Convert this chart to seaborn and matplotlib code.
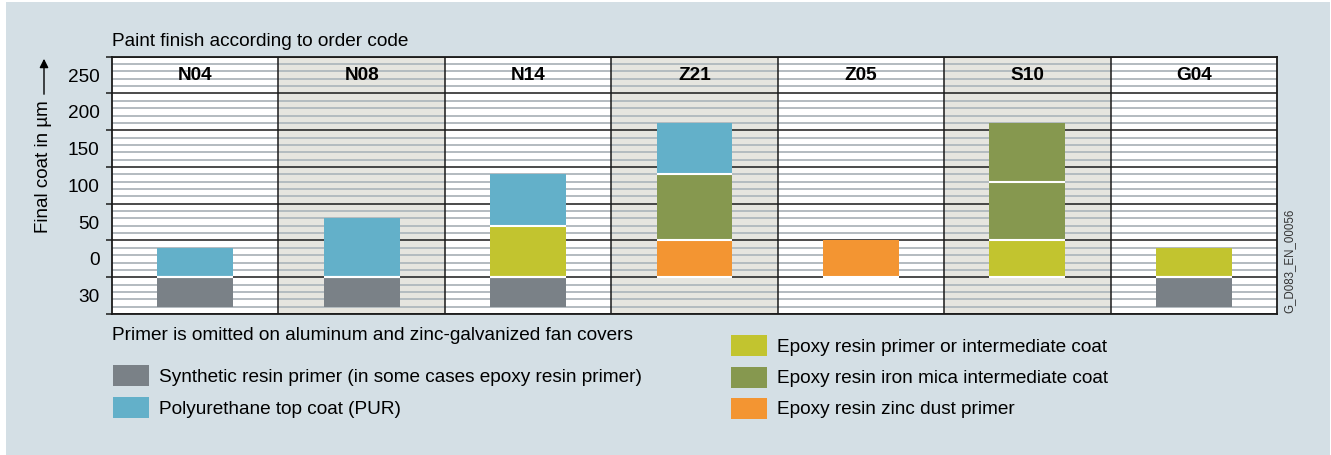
import pandas as pd
import matplotlib.pyplot as plt
import seaborn as sns
from matplotlib.patches import Rectangle

# Veriler
codes = ["N04", "N08", "N14", "Z21", "Z05", "S10", "G04"]
primer_gray = [40, 40, 40, 0, 0, 0, 40]  # sıfırın altında
zinc_orange = [0, 0, 0, 50, 50, 0, 0]
epoxy_yellow = [0, 0, 70, 0, 0, 50, 40]
mica_green = [0, 0, 0, 90, 0, 80, 0]
mica_green_2 = [0, 0, 0, 0, 0, 80, 0]
pur_blue = [40, 80, 70, 70, 0, 0, 0]

ytick_pos = [-25, 25, 75, 125, 175, 225, 275]
ytick_labels = ["30", "0", "50", "100", "150", "200", "250"]

legend_left = ["Synthetic resin primer (in some cases epoxy resin primer)",
               "Polyurethane top coat (PUR)"]
legend_right = ["Epoxy resin primer or intermediate coat",
                "Epoxy resin iron mica intermediate coat",
                "Epoxy resin zinc dust primer"]

colors = {"gray": "#7a8187", "orange": "#f39532", "yellow": "#c2c42f",
          "green": "#86984f", "blue": "#63b0c9"}

plt.rcParams['font.family'] = ['Liberation Sans', 'DejaVu Sans']
FS = 13.7

# Katmanları uzun tabloya çevir
layers = [("orange", zinc_orange), ("yellow", epoxy_yellow), ("green", mica_green),
          ("green", mica_green_2), ("blue", pur_blue)]
rows = []
for i, c in enumerate(codes):
    rows.append(dict(code=c, pos=i, color="gray", bottom=0, height=-primer_gray[i]))
    b = 0
    for name, vals in layers:
        rows.append(dict(code=c, pos=i, color=name, bottom=b, height=vals[i]))
        b += vals[i]
df = pd.DataFrame(rows)
df = df[df.height != 0]

W, H = 1331, 455
fig = plt.figure(figsize=(W / 100, H / 100), dpi=100, facecolor="white")
fig.add_artist(Rectangle((6 / W, 0), 1 - 7 / W, 1 - 2 / H, transform=fig.transFigure,
                         facecolor="#d4dfe5", edgecolor="none", zorder=0))

ax = fig.add_axes([112 / W, 1 - 314 / H, 1165 / W, 257.3 / H])
ax.set_facecolor("white")

bar_w = 0.455
for r in df.itertuples():
    sns.barplot(x=[r.code], y=[r.height], order=codes, color=colors[r.color],
                bottom=r.bottom, width=bar_w, linewidth=0, errorbar=None,
                saturation=1, ax=ax, zorder=3)
    ax.hlines(r.bottom, r.pos - bar_w / 2, r.pos + bar_w / 2, color="white", lw=1.5, zorder=4)

# Sütun arka planları ve çizgiler
for i in [1, 3, 5]:
    ax.axvspan(i - 0.5, i + 0.5, color="#e6e5df", zorder=0, lw=0)
for v in range(-50, 301, 10):
    if v % 50:
        ax.axhline(v, color="#b3bbc0", lw=1.4, zorder=1)
for v in range(-50, 301, 50):
    ax.axhline(v, color="#1a1a1a", lw=1.1, zorder=2)
for i in range(len(codes) - 1):
    ax.axvline(i + 0.5, color="#1a1a1a", lw=1.1, zorder=2)

for i, c in enumerate(codes):
    ax.text(i, 275, c, ha="center", va="center", fontsize=FS, fontweight="bold", zorder=5)

ax.set_xlim(-0.5, len(codes) - 0.5)
ax.set_ylim(-50, 300)
ax.set_xticks([])
ax.set_xlabel("")
ax.set_ylabel("")
ax.set_yticks(ytick_pos, ytick_labels)
ax.set_yticks(range(-50, 301, 50), minor=True)
ax.tick_params(axis="y", which="major", length=0, pad=9, labelsize=FS)
ax.tick_params(axis="y", which="minor", length=4, width=1.1, color="#1a1a1a")
for s in ax.spines.values():
    s.set_color("#1a1a1a")
    s.set_linewidth(1.3)
    s.set_zorder(6)

# Başlık ve eksen yazısı
fig.text(112 / W, 1 - 42 / H, "Paint finish according to order code", fontsize=FS, va="center")
fig.text(44 / W, 1 - 167 / H, "Final coat in µm", rotation=90, fontsize=13.5,
         ha="center", va="center")
ax.annotate("", xy=(44 / W, 1 - 56 / H), xytext=(44 / W, 1 - 97 / H),
            xycoords="figure fraction", textcoords="figure fraction",
            arrowprops=dict(arrowstyle="-|>", color="black", lw=1, mutation_scale=13))
fig.text(1289 / W, 1 - 313 / H, "G_D083_EN_00056", rotation=90, fontsize=8.3,
         color="#333333", ha="center", va="bottom")

# Lejant
fig.text(112 / W, 1 - 335 / H, "Primer is omitted on aluminum and zinc-galvanized fan covers",
         fontsize=FS, va="center")
left_cols = ["gray", "blue"]
for k, (lab, cname) in enumerate(zip(legend_left, left_cols)):
    yc = 375.5 + k * 32
    fig.add_artist(Rectangle((112.5 / W, 1 - (yc + 10.5) / H), 36 / W, 21 / H,
                             transform=fig.transFigure, color=colors[cname], lw=0))
    fig.text(159 / W, 1 - (yc + 1.5) / H, lab, fontsize=FS, va="center")
right_cols = ["yellow", "green", "orange"]
for k, (lab, cname) in enumerate(zip(legend_right, right_cols)):
    yc = 345.5 + k * 31.5
    fig.add_artist(Rectangle((731 / W, 1 - (yc + 10.5) / H), 36 / W, 21 / H,
                             transform=fig.transFigure, color=colors[cname], lw=0))
    fig.text(777 / W, 1 - (yc + 1.5) / H, lab, fontsize=FS, va="center")

fig.savefig("out.png", dpi=100)
